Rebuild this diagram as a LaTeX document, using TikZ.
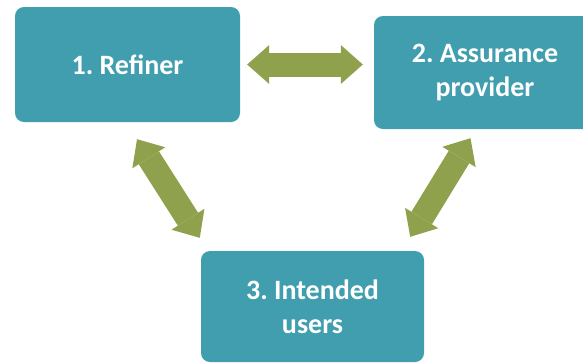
\documentclass[tikz,border=0pt]{standalone}
\usepackage{fontspec}
\setmainfont{Carlito}
\usetikzlibrary{arrows.meta}

\definecolor{boxteal}{HTML}{409EAF}
\definecolor{arrowolive}{HTML}{8FA14C}

\begin{document}
\begin{tikzpicture}[x=1pt,y=-1pt,
        role/.style={fill=boxteal,rounded corners=9pt,text=white,align=center,
            font=\fontsize{28}{34}\selectfont\bfseries\frenchspacing},
        bigarrow/.style={draw=arrowolive,line width=24pt,
            {Triangle[length=22pt,width=39pt,line width=0pt]}-{Triangle[length=22pt,width=39pt,line width=0pt]}}]
        % fix the page size
        \useasboundingbox (0,0) rectangle (583,362);

        % draw the three roles
        \node[role,minimum width=225pt,minimum height=115pt] (ref) at (127.5,64.5) {1. Refiner};
        \node[role,minimum width=222pt,minimum height=113pt] (prov) at (485,72.5) {2. Assurance\\provider};
        \node[role,minimum width=223pt,minimum height=111pt] (users) at (312.5,306.5) {3. Intended\\users};

        % double arrows between each pair
        \draw[bigarrow] ([xshift=7pt]ref.east) -- ([xshift=-11pt]ref.east -| prov.west);
        \draw[bigarrow] ([shift={(9.5,17)}]ref.south) -- ([shift={(-1,-13)}]users.north west);
        \draw[bigarrow] ([shift={(-14.5,9)}]prov.south) -- ([shift={(-14,-14)}]users.north east);

\end{tikzpicture}
\end{document}
